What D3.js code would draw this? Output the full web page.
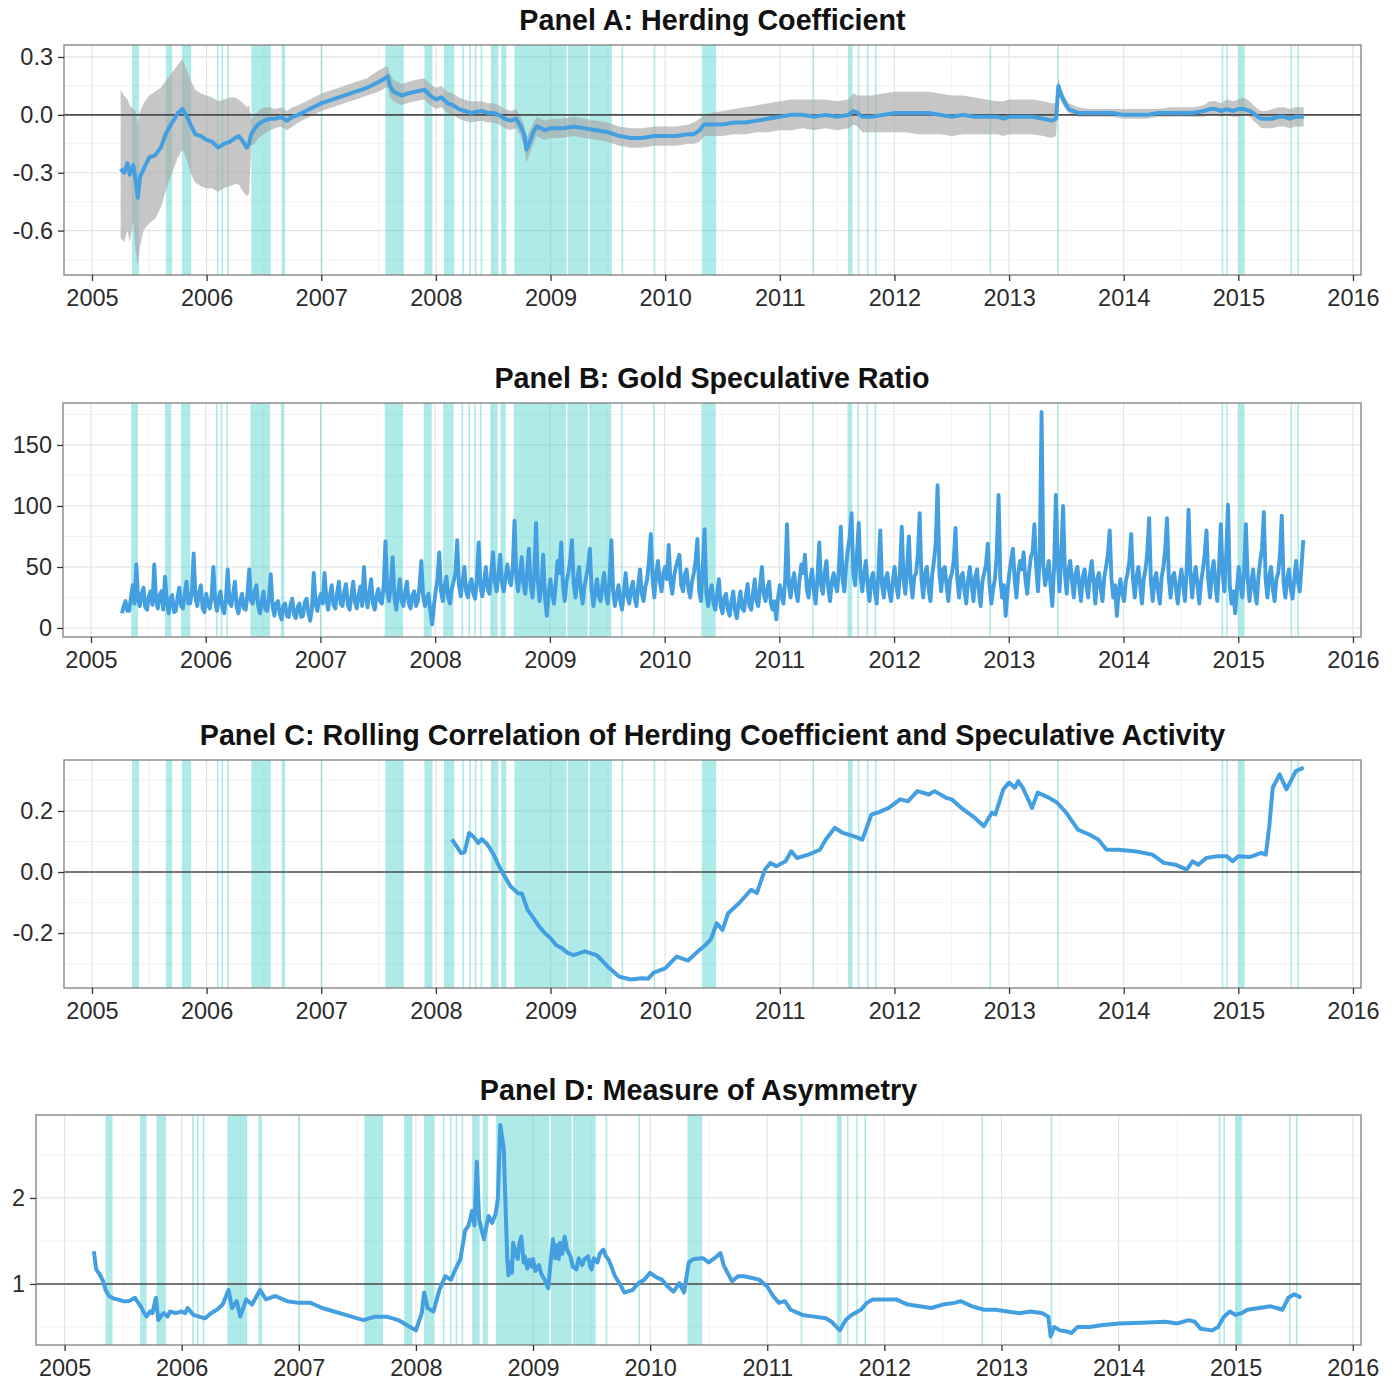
<!DOCTYPE html>
<html><head><meta charset="utf-8">
<script src="https://cdn.jsdelivr.net/npm/d3@7"></script>
<style>body{margin:0;background:#fff} text{font-family:"Liberation Sans",Arial,Helvetica,sans-serif}</style>
</head><body><svg id="c" width="1398" height="1382"></svg>
<script>
// ---------------- DATA ----------------
const yearTicks = [2005,2006,2007,2008,2009,2010,2011,2012,2013,2014,2015,2016];
const titles = ["Panel A: Herding Coefficient","Panel B: Gold Speculative Ratio",
  "Panel C: Rolling Correlation of Herding Coefficient and Speculative Activity","Panel D: Measure of Asymmetry"];
const ticksA = [-0.6,-0.3,0,0.3];
const ticksB = [0,50,100,150];
const ticksC = [-0.2,0,0.2];
const ticksD = [1,2];

// shaded episodes [start, end] in decimal years
const episodes = [[2005.35,2005.41],[2005.645,2005.70],[2005.785,2005.865],[2006.09,2006.095],[2006.13,2006.135],
 [2006.18,2006.185],[2006.39,2006.56],[2006.655,2006.685],[2006.997,2007.0],[2007.56,2007.72],[2007.90,2007.97],
 [2008.07,2008.16],[2008.23,2008.233],[2008.29,2008.293],[2008.34,2008.343],[2008.39,2008.393],[2008.48,2008.545],
 [2008.57,2008.615],[2008.685,2009.14],[2009.152,2009.33],[2009.342,2009.535],[2009.62,2009.623],[2009.90,2009.903],
 [2010.32,2010.445],[2011.285,2011.29],[2011.595,2011.635],[2011.68,2011.684],[2011.76,2011.764],[2011.83,2011.834],
 [2012.83,2012.834],[2013.42,2013.428],[2014.855,2014.868],[2014.895,2014.90],[2015.00,2015.055],[2015.455,2015.459],[2015.515,2015.519]];

// Panel A: [year, coefficient, lower, upper]
const herding = [
 [2005.25,-0.28,-0.64,0.13],[2005.28,-0.30,-0.66,0.10],[2005.31,-0.25,-0.60,0.08],[2005.33,-0.31,-0.66,0.05],
 [2005.36,-0.26,-0.55,0.03],[2005.38,-0.33,-0.70,0.02],[2005.40,-0.43,-0.78,-0.05],[2005.42,-0.32,-0.68,0.02],
 [2005.45,-0.28,-0.60,0.06],[2005.50,-0.22,-0.56,0.10],[2005.55,-0.21,-0.54,0.12],[2005.60,-0.17,-0.48,0.14],
 [2005.65,-0.09,-0.38,0.18],[2005.70,-0.04,-0.30,0.22],[2005.75,0.01,-0.22,0.26],[2005.79,0.03,-0.18,0.29],
 [2005.82,0.00,-0.22,0.24],[2005.86,-0.05,-0.30,0.18],[2005.90,-0.10,-0.35,0.13],[2005.95,-0.11,-0.37,0.11],
 [2006.00,-0.13,-0.38,0.10],[2006.05,-0.14,-0.38,0.09],[2006.10,-0.17,-0.40,0.07],[2006.15,-0.15,-0.38,0.08],
 [2006.20,-0.14,-0.37,0.09],[2006.25,-0.12,-0.36,0.09],[2006.28,-0.11,-0.36,0.08],[2006.32,-0.14,-0.40,0.06],
 [2006.35,-0.17,-0.42,0.04],[2006.37,-0.15,-0.41,0.05],[2006.39,-0.10,-0.16,-0.02],[2006.42,-0.07,-0.15,0.00],
 [2006.45,-0.05,-0.12,0.02],[2006.50,-0.03,-0.10,0.04],[2006.55,-0.02,-0.08,0.04],[2006.60,-0.02,-0.07,0.03],
 [2006.65,-0.01,-0.06,0.04],[2006.70,-0.03,-0.08,0.02],[2006.75,-0.01,-0.06,0.04],[2006.80,0.00,-0.04,0.05],
 [2006.90,0.03,-0.01,0.08],[2007.00,0.06,0.02,0.11],[2007.10,0.08,0.04,0.13],[2007.20,0.10,0.06,0.15],
 [2007.30,0.12,0.08,0.17],[2007.40,0.14,0.10,0.19],[2007.50,0.17,0.12,0.23],[2007.56,0.19,0.14,0.25],
 [2007.58,0.20,0.14,0.25],[2007.60,0.15,0.09,0.21],[2007.63,0.12,0.07,0.18],[2007.70,0.10,0.05,0.16],
 [2007.75,0.11,0.06,0.17],[2007.82,0.12,0.07,0.18],[2007.90,0.13,0.08,0.19],[2007.95,0.10,0.05,0.16],
 [2008.00,0.08,0.03,0.14],[2008.05,0.09,0.04,0.15],[2008.10,0.06,0.01,0.12],[2008.15,0.05,0.00,0.11],
 [2008.20,0.03,-0.02,0.09],[2008.25,0.02,-0.03,0.08],[2008.30,0.01,-0.04,0.07],[2008.40,0.02,-0.03,0.07],
 [2008.45,0.01,-0.04,0.06],[2008.50,0.01,-0.04,0.06],[2008.55,0.00,-0.05,0.05],[2008.60,-0.02,-0.07,0.03],
 [2008.65,-0.03,-0.08,0.02],[2008.70,-0.02,-0.07,0.03],[2008.74,-0.06,-0.11,-0.01],[2008.77,-0.10,-0.16,-0.05],
 [2008.79,-0.18,-0.25,-0.12],[2008.82,-0.14,-0.20,-0.08],[2008.85,-0.09,-0.15,-0.04],[2008.88,-0.06,-0.11,-0.01],
 [2008.95,-0.08,-0.13,-0.03],[2009.00,-0.07,-0.12,-0.02],[2009.10,-0.07,-0.12,-0.02],[2009.20,-0.06,-0.11,-0.01],
 [2009.30,-0.07,-0.12,-0.02],[2009.40,-0.08,-0.13,-0.03],[2009.50,-0.09,-0.14,-0.04],[2009.60,-0.11,-0.16,-0.06],
 [2009.70,-0.12,-0.17,-0.07],[2009.80,-0.12,-0.17,-0.07],[2009.90,-0.11,-0.16,-0.06],[2010.00,-0.11,-0.16,-0.06],
 [2010.10,-0.11,-0.16,-0.06],[2010.20,-0.10,-0.15,-0.05],[2010.25,-0.10,-0.15,-0.04],[2010.30,-0.08,-0.14,-0.02],
 [2010.34,-0.05,-0.11,0.00],[2010.40,-0.05,-0.11,0.01],[2010.50,-0.05,-0.11,0.02],[2010.60,-0.04,-0.10,0.03],
 [2010.70,-0.04,-0.10,0.04],[2010.80,-0.03,-0.09,0.05],[2010.90,-0.02,-0.09,0.06],[2011.00,-0.01,-0.08,0.07],
 [2011.10,0.00,-0.08,0.08],[2011.20,0.00,-0.07,0.08],[2011.30,-0.01,-0.08,0.08],[2011.40,0.00,-0.07,0.08],
 [2011.50,-0.01,-0.08,0.07],[2011.60,0.00,-0.07,0.08],[2011.64,0.02,-0.05,0.11],[2011.68,0.01,-0.06,0.10],
 [2011.72,-0.01,-0.09,0.10],[2011.80,-0.01,-0.09,0.10],[2011.90,0.00,-0.09,0.11],[2012.00,0.01,-0.09,0.12],
 [2012.10,0.01,-0.09,0.12],[2012.20,0.01,-0.10,0.12],[2012.30,0.01,-0.10,0.12],[2012.40,0.00,-0.10,0.11],
 [2012.50,-0.01,-0.11,0.10],[2012.60,0.00,-0.10,0.10],[2012.70,-0.01,-0.10,0.09],[2012.80,-0.01,-0.10,0.08],
 [2012.90,-0.01,-0.10,0.07],[2012.95,-0.02,-0.11,0.07],[2013.00,-0.01,-0.10,0.08],[2013.10,-0.01,-0.10,0.08],
 [2013.20,-0.01,-0.10,0.08],[2013.30,-0.02,-0.11,0.07],[2013.37,-0.03,-0.12,0.06],[2013.41,-0.02,-0.11,0.06],
 [2013.43,0.15,0.11,0.19],[2013.45,0.11,0.08,0.14],[2013.48,0.07,0.04,0.10],[2013.52,0.03,0.01,0.06],
 [2013.60,0.01,-0.01,0.04],[2013.70,0.01,-0.01,0.03],[2013.80,0.01,-0.01,0.03],[2013.90,0.01,-0.01,0.03],
 [2014.00,0.00,-0.02,0.03],[2014.10,0.00,-0.02,0.03],[2014.20,0.00,-0.02,0.03],[2014.30,0.01,-0.01,0.03],
 [2014.40,0.01,-0.01,0.04],[2014.50,0.01,-0.01,0.04],[2014.60,0.01,-0.01,0.04],[2014.70,0.02,-0.01,0.05],
 [2014.75,0.03,0.00,0.07],[2014.80,0.03,0.00,0.07],[2014.85,0.02,-0.01,0.06],[2014.90,0.03,0.00,0.08],
 [2014.95,0.02,-0.01,0.07],[2015.00,0.03,-0.01,0.08],[2015.05,0.03,0.00,0.09],[2015.10,0.02,-0.01,0.07],
 [2015.13,0.01,-0.03,0.05],[2015.17,-0.01,-0.05,0.03],[2015.20,-0.02,-0.07,0.02],[2015.25,-0.02,-0.07,0.02],
 [2015.30,-0.02,-0.07,0.03],[2015.35,-0.01,-0.06,0.04],[2015.40,-0.01,-0.06,0.04],[2015.45,-0.02,-0.07,0.03],
 [2015.50,-0.01,-0.06,0.04],[2015.57,-0.01,-0.06,0.04]];

// Panel B: speculative ratio, sampled every 1/64 year from 2005.27
const specStart = 2005.27, specStep = 1/64;
const speculative = [
 // 2005
 12,18,22,14,14,25,35,20,52,24,18,28,33,17,15,26,30,19,52,23,16,27,30,15,42,22,12,24,27,13,14,25,33,18,16,28,38,20,20,30,61,25,18,29,35,16,13,
 // 2006
 28,19,16,26,50,22,14,25,30,16,12,24,48,21,18,28,38,17,12,23,28,16,15,27,48,22,20,30,35,18,12,22,
 30,15,14,25,44,18,10,20,22,12,7,18,20,10,9,19,24,11,8,17,20,9,10,21,24,12,6,16,45,20,14,24,
 // 2007
 28,20,45,24,15,27,35,19,16,28,38,20,18,30,36,19,15,26,38,21,16,27,34,18,50,25,17,29,40,20,15,26,
 32,22,20,35,71,30,22,36,58,25,15,28,40,22,18,30,38,20,16,27,30,18,22,34,55,26,18,25,28,14,3,18,
 // 2008
 30,40,62,30,22,35,42,25,20,32,38,45,72,35,26,38,50,30,25,36,40,28,24,40,70,34,26,38,50,32,28,45,
 62,38,30,44,60,36,30,42,52,40,35,50,88,42,30,45,58,36,28,46,65,35,25,44,86,38,22,35,60,25,10,28,
 // 2009
 40,28,20,36,55,45,70,35,22,38,45,55,72,36,25,40,50,30,20,34,42,50,65,32,18,30,40,26,22,35,45,28,
 20,40,72,30,18,28,35,22,15,30,45,26,20,32,38,25,18,35,48,28,22,34,40,55,77,40,25,45,55,38,30,45,
 // 2010
 50,40,68,38,28,42,50,55,60,35,30,44,48,32,25,38,45,55,73,30,22,50,81,28,18,30,35,20,15,28,40,18,
 12,25,28,15,10,22,30,14,8,20,30,16,14,26,36,18,15,28,40,22,18,35,50,28,22,32,38,20,15,22,7,25,
 // 2011
 35,26,20,40,85,35,25,38,45,30,22,40,52,45,60,32,25,40,48,30,20,42,70,35,28,45,55,33,22,38,45,35,
 30,50,83,40,30,52,65,75,94,45,35,60,86,42,30,45,55,35,22,40,45,30,20,45,80,35,25,40,45,30,22,38,
 // 2012
 50,35,25,45,83,40,28,50,75,38,25,42,45,60,94,40,25,45,50,32,22,44,55,70,117,45,30,48,50,35,22,40,
 45,55,82,40,25,42,45,30,20,40,50,35,22,42,48,30,18,38,45,52,69,35,20,32,40,60,109,40,25,35,10,30,
 // 2013
 45,55,65,40,25,45,55,48,62,40,28,45,58,62,85,50,30,60,177,50,35,45,55,35,18,50,109,55,30,60,100,45,
 28,48,55,38,25,45,50,35,22,42,48,35,25,44,55,38,20,40,45,32,22,42,50,60,80,40,25,35,10,30,40,28,
 // 2014
 22,38,45,55,77,40,25,42,50,35,20,40,48,62,90,38,22,40,45,30,20,42,50,65,90,40,25,42,45,32,20,38,
 48,35,22,50,97,45,25,42,50,35,20,38,48,60,80,40,25,45,55,36,22,50,85,45,30,60,101,35,20,30,12,32,
 // 2015
 50,35,25,48,85,40,22,38,48,30,20,42,55,65,95,40,25,42,50,32,22,40,45,60,92,38,25,40,48,32,24,40,55,38,30,50,72];

// Panel C: [year, rolling correlation]
const correlation = [
 [2008.14,0.107],[2008.18,0.085],[2008.22,0.062],[2008.25,0.065],[2008.29,0.128],[2008.33,0.115],[2008.37,0.095],
 [2008.40,0.108],[2008.45,0.09],[2008.50,0.06],[2008.55,0.02],[2008.60,-0.014],[2008.65,-0.047],[2008.72,-0.07],
 [2008.75,-0.07],[2008.80,-0.124],[2008.85,-0.15],[2008.90,-0.178],[2008.95,-0.2],[2009.00,-0.217],[2009.05,-0.24],
 [2009.10,-0.25],[2009.15,-0.265],[2009.20,-0.272],[2009.30,-0.26],[2009.40,-0.272],[2009.45,-0.29],[2009.50,-0.31],
 [2009.60,-0.343],[2009.70,-0.352],[2009.80,-0.348],[2009.85,-0.35],[2009.90,-0.33],[2010.00,-0.316],[2010.10,-0.277],
 [2010.20,-0.29],[2010.30,-0.255],[2010.35,-0.24],[2010.40,-0.22],[2010.45,-0.168],[2010.50,-0.19],[2010.55,-0.135],
 [2010.65,-0.10],[2010.75,-0.058],[2010.80,-0.069],[2010.87,0.008],[2010.92,0.03],[2010.97,0.019],[2011.05,0.035],
 [2011.10,0.068],[2011.15,0.046],[2011.25,0.057],[2011.35,0.073],[2011.40,0.106],[2011.48,0.145],[2011.55,0.128],
 [2011.65,0.117],[2011.72,0.106],[2011.80,0.189],[2011.85,0.194],[2011.95,0.21],[2012.05,0.238],[2012.12,0.232],
 [2012.20,0.265],[2012.30,0.254],[2012.35,0.265],[2012.45,0.243],[2012.50,0.238],[2012.60,0.205],[2012.70,0.178],
 [2012.78,0.15],[2012.85,0.194],[2012.88,0.189],[2012.95,0.271],[2013.00,0.293],[2013.05,0.276],[2013.08,0.298],
 [2013.12,0.276],[2013.20,0.21],[2013.25,0.26],[2013.35,0.243],[2013.42,0.227],[2013.50,0.194],[2013.60,0.139],
 [2013.70,0.123],[2013.78,0.106],[2013.85,0.073],[2013.95,0.073],[2014.10,0.068],[2014.25,0.057],[2014.35,0.03],
 [2014.45,0.024],[2014.55,0.008],[2014.60,0.035],[2014.65,0.024],[2014.72,0.046],[2014.82,0.052],[2014.90,0.052],
 [2014.95,0.035],[2015.00,0.052],[2015.10,0.049],[2015.20,0.063],[2015.24,0.057],[2015.27,0.15],[2015.30,0.276],
 [2015.36,0.32],[2015.42,0.271],[2015.50,0.33],[2015.57,0.342]];

// Panel D: [year, asymmetry measure]
const asymmetry = [
 [2005.25,1.38],[2005.27,1.17],[2005.30,1.11],[2005.33,1.03],[2005.35,0.93],[2005.38,0.86],[2005.42,0.83],[2005.45,0.82],
 [2005.50,0.80],[2005.55,0.80],[2005.60,0.84],[2005.65,0.74],[2005.68,0.66],[2005.70,0.62],[2005.73,0.68],[2005.75,0.66],
 [2005.78,0.84],[2005.80,0.58],[2005.83,0.64],[2005.85,0.66],[2005.88,0.62],[2005.90,0.68],[2005.95,0.66],[2006.00,0.68],
 [2006.03,0.66],[2006.05,0.72],[2006.10,0.64],[2006.15,0.62],[2006.20,0.60],[2006.25,0.66],[2006.30,0.70],[2006.35,0.76],
 [2006.40,0.93],[2006.43,0.72],[2006.47,0.80],[2006.50,0.62],[2006.55,0.82],[2006.60,0.76],[2006.67,0.93],[2006.72,0.82],
 [2006.80,0.86],[2006.90,0.80],[2007.00,0.78],[2007.10,0.78],[2007.20,0.72],[2007.30,0.68],[2007.40,0.64],[2007.50,0.60],
 [2007.55,0.58],[2007.65,0.62],[2007.75,0.62],[2007.85,0.58],[2007.95,0.50],[2008.00,0.46],[2008.05,0.66],[2008.07,0.90],
 [2008.10,0.72],[2008.15,0.68],[2008.20,0.93],[2008.25,1.09],[2008.30,1.05],[2008.33,1.15],[2008.38,1.29],[2008.42,1.62],
 [2008.45,1.68],[2008.48,1.85],[2008.50,1.68],[2008.52,2.42],[2008.54,1.75],[2008.58,1.52],[2008.62,1.79],[2008.65,1.71],
 [2008.68,1.81],[2008.70,1.99],[2008.72,2.85],[2008.75,2.57],[2008.78,1.29],[2008.79,1.10],[2008.80,1.25],[2008.82,1.13],
 [2008.83,1.48],[2008.85,1.35],[2008.87,1.29],[2008.88,1.45],[2008.90,1.55],[2008.92,1.25],[2008.93,1.32],[2008.95,1.18],
 [2008.97,1.28],[2008.99,1.20],[2009.00,1.29],[2009.02,1.15],[2009.05,1.22],[2009.07,1.12],[2009.10,1.05],[2009.13,0.95],
 [2009.15,1.25],[2009.17,1.52],[2009.19,1.30],[2009.20,1.45],[2009.22,1.29],[2009.23,1.48],[2009.25,1.35],[2009.27,1.55],
 [2009.29,1.40],[2009.32,1.32],[2009.34,1.20],[2009.37,1.17],[2009.39,1.30],[2009.42,1.22],[2009.44,1.29],[2009.47,1.32],
 [2009.49,1.20],[2009.50,1.17],[2009.52,1.30],[2009.55,1.25],[2009.57,1.35],[2009.60,1.40],[2009.62,1.33],[2009.65,1.27],
 [2009.70,1.09],[2009.75,0.98],[2009.78,0.90],[2009.85,0.93],[2009.90,1.01],[2009.95,1.05],[2010.00,1.13],[2010.05,1.08],
 [2010.10,1.05],[2010.15,0.97],[2010.20,0.91],[2010.25,1.01],[2010.29,0.90],[2010.33,1.25],[2010.37,1.29],[2010.45,1.30],
 [2010.50,1.25],[2010.55,1.30],[2010.60,1.36],[2010.63,1.21],[2010.70,1.03],[2010.75,1.09],[2010.80,1.09],[2010.87,1.07],
 [2010.93,1.05],[2011.00,0.97],[2011.05,0.86],[2011.10,0.78],[2011.15,0.80],[2011.20,0.70],[2011.30,0.64],[2011.40,0.62],
 [2011.50,0.60],[2011.55,0.56],[2011.62,0.46],[2011.67,0.58],[2011.72,0.64],[2011.80,0.70],[2011.85,0.78],[2011.90,0.82],
 [2012.00,0.82],[2012.10,0.82],[2012.20,0.76],[2012.30,0.74],[2012.40,0.72],[2012.50,0.76],[2012.60,0.78],[2012.65,0.80],
 [2012.75,0.74],[2012.85,0.70],[2012.95,0.70],[2013.05,0.68],[2013.15,0.66],[2013.25,0.68],[2013.35,0.66],[2013.40,0.62],
 [2013.42,0.39],[2013.45,0.50],[2013.50,0.46],[2013.55,0.45],[2013.60,0.43],[2013.65,0.50],[2013.75,0.50],[2013.85,0.52],
 [2014.00,0.54],[2014.20,0.55],[2014.40,0.56],[2014.50,0.54],[2014.60,0.58],[2014.65,0.56],[2014.70,0.48],[2014.80,0.46],
 [2014.85,0.50],[2014.90,0.62],[2014.95,0.68],[2015.00,0.64],[2015.05,0.66],[2015.10,0.70],[2015.20,0.72],[2015.30,0.74],
 [2015.35,0.72],[2015.40,0.70],[2015.45,0.84],[2015.50,0.88],[2015.56,0.84]];

// ---------------- DRAWING ----------------
const svg = d3.select("#c");
svg.append("rect").attr("width",1398).attr("height",1382).attr("fill","#fff");
const LINE = "#439fe0";

function drawPanel(o){
  const g = svg.append("g");
  const x = d3.scaleLinear().domain([2004.756, 2016.07]).range([o.left, o.right]);
  const y = d3.scaleLinear().domain(o.ydom).range([o.bottom, o.top]);
  const clipId = "clip"+o.id;
  g.append("clipPath").attr("id",clipId).append("rect")
    .attr("x",o.left).attr("y",o.top).attr("width",o.right-o.left).attr("height",o.bottom-o.top);
  const pg = g.append("g").attr("clip-path",`url(#${clipId})`);
  const xMinor = yearTicks.slice(0,-1).map(v=>v+0.5);
  pg.selectAll(".xmin").data(xMinor).join("line")
    .attr("x1",d=>x(d)).attr("x2",d=>x(d)).attr("y1",o.top).attr("y2",o.bottom)
    .attr("stroke","#f1f1f1").attr("stroke-width",0.9);
  pg.selectAll(".ymin").data(o.yminor).join("line")
    .attr("y1",d=>y(d)).attr("y2",d=>y(d)).attr("x1",o.left).attr("x2",o.right)
    .attr("stroke","#f1f1f1").attr("stroke-width",0.9);
  pg.selectAll(".xmaj").data(yearTicks).join("line")
    .attr("x1",d=>x(d)).attr("x2",d=>x(d)).attr("y1",o.top).attr("y2",o.bottom)
    .attr("stroke","#e4e4e4").attr("stroke-width",1.2);
  pg.selectAll(".ymaj").data(o.ticks).join("line")
    .attr("y1",d=>y(d)).attr("y2",d=>y(d)).attr("x1",o.left).attr("x2",o.right)
    .attr("stroke","#e4e4e4").attr("stroke-width",1.2);
  pg.selectAll(".ep").data(episodes).join("rect")
    .attr("x",d=>x(d[0])).attr("width",d=>Math.max(x(d[1])-x(d[0]),1.6))
    .attr("y",o.top).attr("height",o.bottom-o.top)
    .attr("fill","rgb(60,204,200)").attr("fill-opacity",0.42);
  if(o.ribbon){
    pg.append("path").datum(o.ribbon)
      .attr("d",d3.area().x(d=>x(d[0])).y0(d=>y(d[2])).y1(d=>y(d[3])))
      .attr("fill","#a8a8a8").attr("fill-opacity",0.65);
  }
  if(o.href!==undefined){
    pg.append("line").attr("x1",o.left).attr("x2",o.right).attr("y1",y(o.href)).attr("y2",y(o.href))
      .attr("stroke","#4d4d4d").attr("stroke-width",1.6);
  }
  pg.append("path").datum(o.series)
    .attr("d",d3.line().x(d=>x(d[0])).y(d=>y(d[1])))
    .attr("fill","none").attr("stroke",LINE).attr("stroke-width",o.lw)
    .attr("stroke-linejoin","round");
  g.append("rect").attr("x",o.left).attr("y",o.top).attr("width",o.right-o.left).attr("height",o.bottom-o.top)
    .attr("fill","none").attr("stroke","#7f7f7f").attr("stroke-width",1.3);
  const xa = g.append("g").attr("transform",`translate(0,${o.bottom})`)
    .call(d3.axisBottom(x).tickValues(yearTicks).tickFormat(d3.format("d")).tickSize(6).tickPadding(3));
  const ya = g.append("g").attr("transform",`translate(${o.left},0)`)
    .call(d3.axisLeft(y).tickValues(o.ticks).tickFormat(o.fmt).tickSize(6).tickPadding(5));
  [xa,ya].forEach(a=>{
    a.select(".domain").remove();
    a.selectAll(".tick line").attr("stroke","#333").attr("stroke-width",1.3);
    a.selectAll(".tick text").attr("fill","#2b2b2b").attr("font-size",23.5)
      .attr("font-family","'Liberation Sans',Arial,sans-serif");
  });
  xa.selectAll(".tick text").attr("dy","0.93em");
  g.append("text").attr("x",(o.left+o.right)/2).attr("y",o.top-15).attr("text-anchor","middle")
    .attr("font-size",28.7).attr("font-weight","bold").attr("fill","#111").text(o.title);
}

const fmt1 = v => d3.format(".1f")(v).replace("−","-");
drawPanel({id:"A",title:titles[0],left:64,right:1361,top:45,bottom:275,ydom:[-0.83,0.362],
  ticks:ticksA,yminor:[-0.75,-0.45,-0.15,0.15],fmt:fmt1,
  series:herding,ribbon:herding,href:0,lw:4});
drawPanel({id:"B",title:titles[1],left:63,right:1361,top:403,bottom:637,ydom:[-7.4,184.4],
  ticks:ticksB,yminor:[25,75,125,175],fmt:d3.format("d"),
  series:speculative.map((v,i)=>[specStart+i*specStep,v]),lw:3.9});
drawPanel({id:"C",title:titles[2],left:64,right:1361,top:760,bottom:988,ydom:[-0.38,0.367],
  ticks:ticksC,yminor:[-0.3,-0.1,0.1,0.3],fmt:fmt1,
  series:correlation,href:0,lw:4});
drawPanel({id:"D",title:titles[3],left:36,right:1361,top:1115,bottom:1345,ydom:[0.29,2.965],
  ticks:ticksD,yminor:[0.5,1.5,2.5],fmt:d3.format("d"),
  series:asymmetry,href:1,lw:4});
</script></body></html>
